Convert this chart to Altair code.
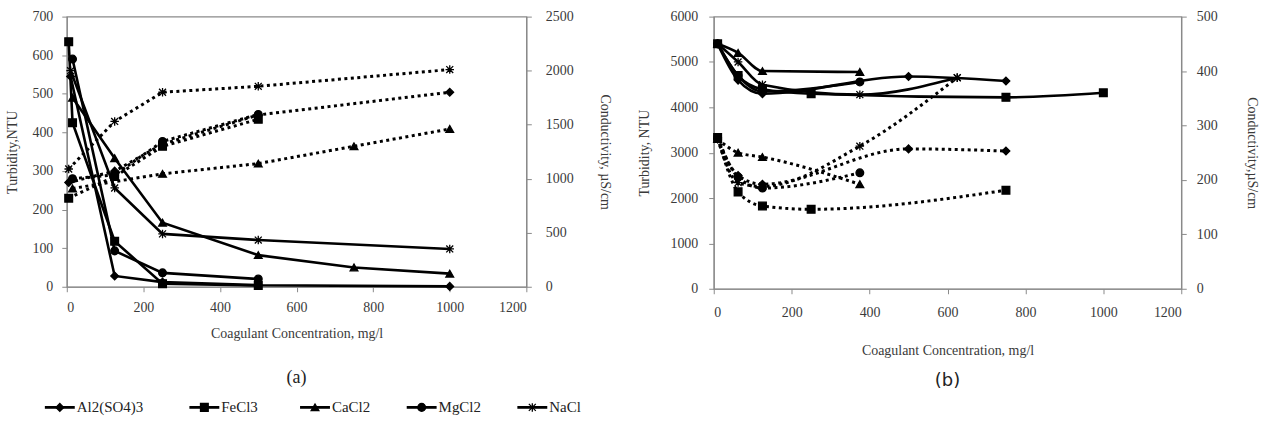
import altair as alt
import pandas as pd

FONT = "Liberation Serif"
AXIS_GRAY = "#8a8a8a"
LABEL_COLOR = "#3a3a3a"

compounds = ["Al2(SO4)3", "FeCl3", "CaCl2", "MgCl2", "NaCl"]
ASTERISK = "M-0.9,-0.9L0.9,0.9M-0.9,0.9L0.9,-0.9M0,-1.1L0,1.1M-1.1,0L1.1,0"
shape_range = ["diamond", "square", "triangle-up", "circle", ASTERISK]

x_ticks = [0, 200, 400, 600, 800, 1000, 1200]

# ---------------- Panel (a): turbidity (NTU, left axis) ----------------
a_al_x = [10, 125, 250, 500, 1000]
a_al_turb = [545, 28, 12, 4, 1]
a_fe_x = [5, 15, 125, 250, 500]
a_fe_turb = [635, 425, 118, 8, 3]
a_ca_x = [15, 125, 250, 500, 750, 1000]
a_ca_turb = [490, 333, 166, 82, 50, 34]
a_mg_x = [15, 125, 250, 500]
a_mg_turb = [590, 93, 36, 20]
a_na_x = [10, 125, 250, 500, 1000]
a_na_turb = [560, 256, 137, 121, 98]

# ---------------- Panel (a): conductivity (uS/cm, right axis) ----------------
a_al_cx = [5, 125, 250, 500, 1000]
a_al_cond = [965, 1070, 1320, 1590, 1800]
a_fe_cx = [5, 125, 250, 500]
a_fe_cond = [820, 1020, 1300, 1550]
a_ca_cx = [15, 250, 500, 750, 1000]
a_ca_cond = [910, 1045, 1140, 1300, 1460]
a_mg_cx = [15, 125, 250, 500]
a_mg_cond = [1000, 1035, 1345, 1595]
a_na_cx = [5, 125, 250, 500, 1000]
a_na_cond = [1090, 1530, 1800, 1855, 2010]

# ---------------- Panel (b): turbidity (NTU, left axis) ----------------
b_al_x = [10, 62.5, 125, 500, 750]
b_al_turb = [5400, 4600, 4300, 4680, 4580]
b_fe_x = [10, 62.5, 125, 250, 750, 1000]
b_fe_turb = [5400, 4700, 4400, 4300, 4220, 4320]
b_ca_x = [10, 62.5, 125, 375]
b_ca_turb = [5400, 5200, 4800, 4780]
b_mg_x = [10, 62.5, 125, 375]
b_mg_turb = [5400, 4700, 4350, 4560]
b_na_x = [10, 62.5, 125, 375, 625]
b_na_turb = [5400, 5000, 4500, 4280, 4650]

# ---------------- Panel (b): conductivity (uS/cm, right axis) ----------------
b_al_cx = [10, 62.5, 125, 500, 750]
b_al_cond = [275, 208, 192, 257, 253]
b_fe_cx = [10, 62.5, 125, 250, 750]
b_fe_cond = [278, 178, 152, 146, 181]
b_ca_cx = [10, 62.5, 125, 375]
b_ca_cond = [275, 250, 242, 192]
b_mg_cx = [10, 62.5, 125, 375]
b_mg_cond = [278, 205, 185, 213]
b_na_cx = [10, 62.5, 125, 375, 625]
b_na_cond = [275, 195, 188, 262, 388]


def series_df(xs_list, ys_list):
    rows = []
    for name, xs, ys in zip(compounds, xs_list, ys_list):
        for x, y in zip(xs, ys):
            rows.append({"compound": name, "conc": x, "value": y})
    return pd.DataFrame(rows)


a_turb = series_df([a_al_x, a_fe_x, a_ca_x, a_mg_x, a_na_x],
                   [a_al_turb, a_fe_turb, a_ca_turb, a_mg_turb, a_na_turb])
a_cond = series_df([a_al_cx, a_fe_cx, a_ca_cx, a_mg_cx, a_na_cx],
                   [a_al_cond, a_fe_cond, a_ca_cond, a_mg_cond, a_na_cond])
b_turb = series_df([b_al_x, b_fe_x, b_ca_x, b_mg_x, b_na_x],
                   [b_al_turb, b_fe_turb, b_ca_turb, b_mg_turb, b_na_turb])
b_cond = series_df([b_al_cx, b_fe_cx, b_ca_cx, b_mg_cx, b_na_cx],
                   [b_al_cond, b_fe_cond, b_ca_cond, b_mg_cond, b_na_cond])

shape_enc = alt.Shape("compound:N", scale=alt.Scale(domain=compounds, range=shape_range), legend=None)


def panel(turb_df, cond_df, w, h, lmax, lstep, rmax, rstep, interp, ltitle, rtitle,
          xlabel_pad, xtitle_pad, l_lab_pad, l_tit_pad, r_lab_pad, r_tit_pad,
          tag, tag_font, tag_offset):
    xenc = alt.X(
        "conc:Q",
        scale=alt.Scale(domain=[0, 1200], nice=False),
        axis=alt.Axis(values=x_ticks, format="d", title="Coagulant Concentration, mg/l", grid=False,
                      labelPadding=xlabel_pad, titlePadding=xtitle_pad),
    )
    yl = alt.Y(
        "value:Q",
        scale=alt.Scale(domain=[0, lmax], nice=False),
        axis=alt.Axis(values=list(range(0, lmax + 1, lstep)), format="d", title=ltitle, orient="left",
                      grid=False, labelPadding=l_lab_pad, titlePadding=l_tit_pad),
    )
    yr = alt.Y(
        "value:Q",
        scale=alt.Scale(domain=[0, rmax], nice=False),
        axis=alt.Axis(values=list(range(0, rmax + 1, rstep)), format="d", title=rtitle, orient="right",
                      grid=False, labelPadding=r_lab_pad, titlePadding=r_tit_pad),
    )
    turb_line = alt.Chart(turb_df).mark_line(color="black", strokeWidth=2.6, interpolate=interp).encode(
        x=xenc, y=yl, detail="compound:N")
    turb_pts = alt.Chart(turb_df).mark_point(filled=True, color="black", stroke="black", strokeWidth=1.3,
                                             size=60, opacity=1).encode(x=xenc, y=yl, shape=shape_enc)
    cond_line = alt.Chart(cond_df).mark_line(color="black", strokeWidth=3, strokeDash=[3, 3.5],
                                             interpolate=interp).encode(x=xenc, y=yr, detail="compound:N")
    cond_pts = alt.Chart(cond_df).mark_point(filled=True, color="black", stroke="black", strokeWidth=1.3,
                                             size=60, opacity=1).encode(x=xenc, y=yr, shape=shape_enc)
    left = alt.layer(turb_line, turb_pts)
    right = alt.layer(cond_line, cond_pts)
    return alt.layer(left, right).resolve_scale(y="independent").properties(
        width=w, height=h,
        title=alt.TitleParams(tag, orient="bottom", font=tag_font, fontSize=18, fontWeight="normal",
                              color="#222222", offset=tag_offset, anchor="middle"),
    )


panel_a = panel(a_turb, a_cond, 461, 271, 700, 100, 2500, 500, "linear",
                "Turbidity,NTU", "Conductivity, µS/cm", 9, 12, 9, 12, 14, 24, "(a)", FONT, 29)
panel_b = panel(b_turb, b_cond, 469, 273, 6000, 1000, 500, 100, "monotone",
                "Turbidity, NTU", "Conductivity,µS/cm", 12, 24, 11, 18, 10, 27, "(b)", "DejaVu Sans", 15)

# ---------------- Manual legend (line + marker + label) ----------------
PLOT_LEFT = 69
legend_slots = [62, 207, 318, 425, 536]
legend_df = pd.DataFrame({"compound": compounds, "mx": legend_slots})
LEG_W = 600
lx = alt.Scale(domain=[PLOT_LEFT, PLOT_LEFT + LEG_W], range=[0, LEG_W])
leg_base = alt.Chart(legend_df).transform_calculate(x0="datum.mx - 15", x1="datum.mx + 15", tx="datum.mx + 17")
leg_rule = leg_base.mark_rule(color="black", strokeWidth=2.8).encode(
    x=alt.X("x0:Q", scale=lx, axis=None), x2="x1:Q", y=alt.value(9))
leg_pts = leg_base.mark_point(filled=True, color="black", stroke="black", strokeWidth=1.3, size=60, opacity=1).encode(
    x=alt.X("mx:Q", scale=lx, axis=None), y=alt.value(9), shape=shape_enc)
leg_txt = leg_base.mark_text(align="left", baseline="middle", font=FONT, fontSize=15, color="#222222").encode(
    x=alt.X("tx:Q", scale=lx, axis=None), y=alt.value(9), text="compound:N")
legend_chart = alt.layer(leg_rule, leg_pts, leg_txt).properties(
    width=LEG_W, height=18, view=alt.ViewConfig(stroke="transparent"))

top = alt.hconcat(panel_a, panel_b, spacing=25)
chart = alt.vconcat(top, legend_chart, spacing=6).properties(
    padding={"left": 5, "top": 8, "right": 5, "bottom": 5}
).configure_view(stroke=AXIS_GRAY, strokeWidth=1.2).configure_axis(
    domainColor=AXIS_GRAY, tickColor=AXIS_GRAY, tickSize=5, domainWidth=1.2,
    labelFont=FONT, labelFontSize=14, labelColor=LABEL_COLOR,
    titleFont=FONT, titleFontSize=14, titleFontWeight="normal", titleColor=LABEL_COLOR,
).configure_title(font=FONT)

chart.save("out.html", embed_options={"renderer": "svg", "actions": False})
